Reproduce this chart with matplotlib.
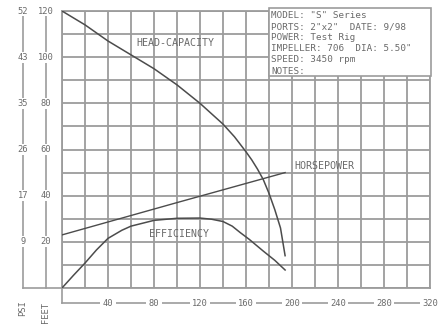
import numpy as np
import matplotlib
matplotlib.use('Agg')
import matplotlib.pyplot as plt
from matplotlib.patches import Rectangle

# pump curve readings (gpm vs feet scale)
head_gpm = [0, 20, 40, 60, 80, 100, 120, 140, 150, 160, 165, 170, 175, 180, 185, 190, 194]
head_ft = [120, 114, 107, 101, 95, 88, 80, 71, 65.5, 59, 55.5, 51.5, 47, 41, 34, 26, 14]

hp_gpm = [0, 100, 194]
hp_val = [23, 37, 50]

eff_gpm = [0, 10, 20, 30, 40, 52, 60, 72, 80, 100, 120, 130, 140, 148, 155, 163, 175, 185, 194]
eff_val = [0, 5.5, 10.8, 16.5, 21.5, 25, 26.8, 28.3, 29.3, 30.2, 30.3, 29.8, 28.8, 26.8, 24, 21, 16, 12, 7.8]

x_labels = [40, 80, 120, 160, 200, 240, 280, 320]
feet_ticks = [120, 100, 80, 60, 40, 20]
psi_labels = ['52', '43', '35', '26', '17', '9']

info_lines = ['MODEL: "S" Series',
              'PORTS: 2"x2"  DATE: 9/98',
              'POWER: Test Rig',
              'IMPELLER: 706  DIA: 5.50"',
              'SPEED: 3450 rpm',
              'NOTES:']

grid_c = '#9c9c9c'
line_c = '#4c4c4c'
text_c = '#6a6a6a'
mono = 'DejaVu Sans Mono'

fig = plt.figure(figsize=(4.47, 3.24), dpi=100)
fig.patch.set_facecolor('white')
ax = fig.add_axes([62 / 447, 36 / 324, 368 / 447, 277 / 324])
ax.set_xlim(0, 320)
ax.set_ylim(0, 120)

# grid
ax.set_xticks(np.arange(0, 321, 20))
ax.set_yticks(np.arange(0, 121, 10))
ax.tick_params(length=0, labelbottom=False, labelleft=False)
ax.grid(True, color=grid_c, linewidth=1.3)
for s in ax.spines.values():
    s.set_color(grid_c)
    s.set_linewidth(1.3)

# curves
ax.plot(head_gpm, head_ft, color=line_c, lw=1.1, zorder=3)
ax.plot(hp_gpm, hp_val, color=line_c, lw=1.0, zorder=3)
ax.plot(eff_gpm, eff_val, color=line_c, lw=1.1, zorder=3)

lbl = dict(color=text_c, fontsize=7.2, family=mono, zorder=4)
ax.text(99, 106, 'HEAD-CAPACITY', ha='center', va='center', **lbl)
ax.text(102, 23.4, 'EFFICIENCY', ha='center', va='center', **lbl)
ax.text(202, 53, 'HORSEPOWER', ha='left', va='center', **lbl)

# info box
box = Rectangle((180, 92), 141, 29.5, facecolor='white', edgecolor=grid_c,
                lw=1.2, zorder=5, clip_on=False)
ax.add_patch(box)
for i, t in enumerate(info_lines):
    ax.text(182, 118 - i * 4.8, t, ha='left', va='center', color=text_c,
            fontsize=6.7, family=mono, zorder=6)

# left scales (feet and psi)
x_feet, x_psi = -14, -34
for xs in (x_feet, x_psi):
    ax.plot([xs, xs], [0, 120], color=grid_c, lw=1.2, clip_on=False)
ax.plot([x_psi, 0], [0, 0], color=grid_c, lw=1.2, clip_on=False)
bb = dict(facecolor='white', edgecolor='none', pad=0.6)
for f, p in zip(feet_ticks, psi_labels):
    ax.text(x_feet, f, str(f), ha='center', va='center', color=text_c,
            fontsize=6.3, family=mono, bbox=bb, clip_on=False)
    ax.text(x_psi, f, p, ha='center', va='center', color=text_c,
            fontsize=6.3, family=mono, bbox=bb, clip_on=False)
ax.text(x_psi, -8.7, 'PSI', rotation=90, ha='center', va='center',
        color=text_c, fontsize=6.3, family=mono, clip_on=False)
ax.text(x_feet, -10.8, 'FEET', rotation=90, ha='center', va='center',
        color=text_c, fontsize=6.3, family=mono, clip_on=False)

# bottom gpm scale
y_sc = -6.5
ax.plot([0, 0], [0, y_sc], color=grid_c, lw=1.2, clip_on=False)
ax.plot([0, 312], [y_sc, y_sc], color=grid_c, lw=1.2, clip_on=False)
for v in x_labels:
    ax.text(v, y_sc, str(v), ha='center', va='center', color=text_c,
            fontsize=6.3, family=mono,
            bbox=dict(facecolor='white', edgecolor='none', pad=1.8),
            clip_on=False)

fig.savefig('out.png', dpi=100)
